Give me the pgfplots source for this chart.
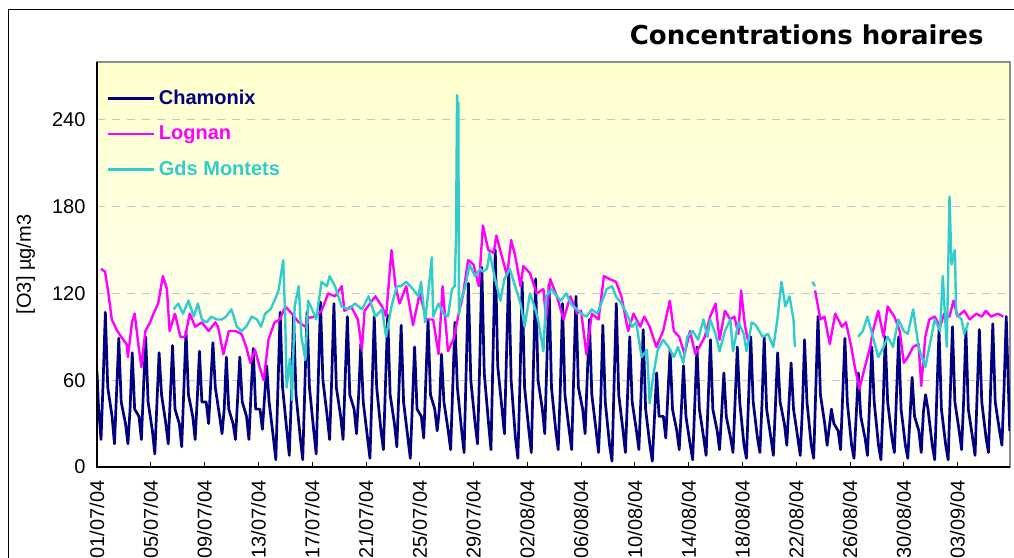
\documentclass[border=0pt]{standalone}
\usepackage{pgfplots}
\pgfplotsset{compat=1.18}
\usepackage{fontspec}
\setmainfont{Liberation Sans}
\newfontfamily\titlefont{DejaVu Sans}
\definecolor{cham}{HTML}{000080}
\definecolor{logn}{HTML}{FF00FF}
\definecolor{mont}{HTML}{33CCCC}
\definecolor{bgy}{HTML}{FFFFCC}
\definecolor{gridc}{HTML}{C4C4CC}
\definecolor{framec}{HTML}{8C8C8C}
\begin{document}
\begin{tikzpicture}
\begin{axis}[
  at={(97pt,90pt)}, anchor=south west,
  scale only axis, width=913pt, height=405pt,
  xmin=0, xmax=67.9, ymin=0, ymax=280,
  unbounded coords=jump,
  axis background/.style={top color=bgy, bottom color=white},
  axis line style={framec, line width=1.5pt},
  after end axis/.code={\draw[black, line width=1.3pt] (rel axis cs:0,1) -- (rel axis cs:0,0) -- (rel axis cs:1,0);},
  ytick={0,60,120,180,240},
  xtick={0,4,...,64},
  xticklabels={01/07/04,05/07/04,09/07/04,13/07/04,17/07/04,21/07/04,25/07/04,29/07/04,02/08/04,06/08/04,10/08/04,14/08/04,18/08/04,22/08/04,26/08/04,30/08/04,03/09/04},
  tick pos=left, tick align=inside, major tick length=5pt,
  xtick style={black, line width=0.8pt},
  ytick style={draw=none},
  /pgf/number format/assume math mode=true,
  tick label style={font=\fontsize{20}{24}\selectfont},
  xticklabel style={yshift=-10pt, rotate=90, anchor=east},
  yticklabel style={xshift=-8pt},
  ymajorgrids,
  grid style={gridc, line width=0.8pt, dash pattern=on 8pt off 7pt},
  ylabel={[O3] µg/m3},
  every axis y label/.style={at={(axis description cs:-0.078,0.5)}, rotate=90, anchor=center, font=\fontsize{20}{24}\selectfont},
  legend style={at={(axis description cs:0.00986,0.936)}, anchor=north west, draw=none, fill=none, inner sep=0pt, row sep=14.5pt, font=\fontsize{20}{24}\selectfont\bfseries, nodes={text height=15pt, text depth=4pt, inner sep=1pt}, /tikz/every odd column/.append style={column sep=3pt}},
  legend cell align=left,
  legend image code/.code={\draw[#1] (0pt,0pt) -- (46pt,0pt);},
  no markers,
]
\addplot[cham, line width=2.7pt, line join=round] coordinates {
(0,66)(0.12,40)(0.3,19)(0.46,60)(0.62,107)(0.8,55)
(1.12,35)(1.3,16)(1.62,89)(1.8,45)
(2.12,30)(2.3,16)(2.46,40)(2.62,79)(2.8,40)
(3.12,35)(3.3,19)(3.62,90)(3.8,45)
(4.12,25)(4.3,9)(4.46,45)(4.62,79)(4.8,50)
(5.12,30)(5.3,16)(5.62,84)(5.8,40)
(6.12,30)(6.3,14)(6.62,94)(6.8,50)
(7.12,35)(7.3,19)(7.46,48)(7.62,80)(7.8,45)
(8.12,45)(8.3,30)(8.62,86)(8.8,55)
(9.12,35)(9.3,23)(9.46,40)(9.62,76)(9.8,40)
(10.12,30)(10.3,19)(10.62,76)(10.8,45)
(11.12,35)(11.3,19)(11.46,52)(11.62,82)(11.8,40)
(12.12,40)(12.3,26)(12.62,70)(12.8,45)
(13.12,20)(13.3,5)(13.62,107)(13.8,55)
(14.12,25)(14.3,8)(14.46,50)(14.62,105)(14.8,50)
(15.12,20)(15.3,5)(15.62,107)(15.8,55)
(16.12,25)(16.3,9)(16.62,114)(16.8,60)
(17.12,35)(17.3,19)(17.46,62)(17.62,113)(17.8,55)
(18.12,35)(18.3,19)(18.62,104)(18.8,50)
(19.12,40)(19.3,23)(19.46,50)(19.62,85)(19.8,45)
(20.12,20)(20.3,6)(20.62,104)(20.8,55)
(21.12,25)(21.3,12)(21.62,105)(21.8,50)
(22.12,30)(22.3,14)(22.46,55)(22.62,98)(22.8,45)
(23.12,20)(23.3,6)(23.62,83)(23.8,40)
(24.12,35)(24.3,20)(24.62,102)(24.8,50)
(25.12,40)(25.3,25)(25.46,40)(25.62,78)(25.8,45)
(26.12,25)(26.3,12)(26.62,100)(26.8,55)
(27.12,25)(27.3,10)(27.62,127)(27.8,60)
(28.12,30)(28.3,16)(28.46,70)(28.62,138)(28.8,65)
(29.12,30)(29.3,12)(29.62,150)(29.8,70)
(30.12,40)(30.3,23)(30.62,136)(30.8,60)
(31.12,20)(31.3,6)(31.46,60)(31.62,128)(31.8,55)
(32.12,25)(32.3,10)(32.62,130)(32.8,60)
(33.12,40)(33.3,23)(33.62,126)(33.8,55)
(34.12,25)(34.3,12)(34.46,55)(34.62,113)(34.8,50)
(35.12,25)(35.3,12)(35.62,118)(35.8,55)
(36.12,40)(36.3,23)(36.62,102)(36.8,50)
(37.12,25)(37.3,10)(37.46,45)(37.62,98)(37.8,45)
(38.12,15)(38.3,4)(38.62,113)(38.8,50)
(39.12,25)(39.3,10)(39.62,90)(39.8,45)
(40.12,25)(40.3,12)(40.46,50)(40.62,95)(40.8,40)
(41.12,15)(41.3,4)(41.62,65)(41.8,35)
(42.12,35)(42.3,20)(42.62,81)(42.8,40)
(43.12,25)(43.3,12)(43.46,40)(43.62,70)(43.8,35)
(44.12,15)(44.3,5)(44.62,83)(44.8,40)
(45.12,20)(45.3,8)(45.62,88)(45.8,40)
(46.12,25)(46.3,12)(46.46,38)(46.62,65)(46.8,35)
(47.12,20)(47.3,10)(47.62,83)(47.8,45)
(48.12,15)(48.3,6)(48.62,90)(48.8,45)
(49.12,20)(49.3,10)(49.46,45)(49.62,90)(49.8,40)
(50.12,20)(50.3,8)(50.62,79)(50.8,45)
(51.12,30)(51.3,15)(51.62,72)(51.8,40)
(52.12,20)(52.3,8)(52.46,40)(52.62,88)(52.8,45)
(53.12,15)(53.3,6)(53.62,104)(53.8,50)
(54.12,30)(54.3,15)(54.62,40)(54.8,30)
(55.12,25)(55.3,12)(55.46,50)(55.62,89)(55.8,45)
(56.12,15)(56.3,6)(56.62,65)(56.8,35)
(57.12,20)(57.3,8)(57.62,83)(57.8,45)
(58.12,15)(58.3,5)(58.46,42)(58.62,90)(58.8,45)
(59.12,20)(59.3,10)(59.62,90)(59.8,40)
(60.12,15)(60.3,6)(60.62,62)(60.8,35)
(61.12,25)(61.3,10)(61.46,38)(61.62,50)(61.8,40)
(62.12,15)(62.3,5)(62.62,95)(62.8,40)
(63.12,15)(63.3,5)(63.62,97)(63.8,45)
(64.12,25)(64.3,12)(64.46,48)(64.62,95)(64.8,40)
(65.12,20)(65.3,8)(65.62,95)(65.8,45)
(66.12,20)(66.3,10)(66.62,99)(66.8,45)
(67.12,25)(67.3,15)(67.46,55)(67.62,104)(67.88,25)
};
\addlegendentry{\textcolor{cham}{Chamonix}}
\addplot[logn, line width=2.4pt, line join=round] coordinates {
(0.3,137)(0.6,135)(0.85,120)(1.1,102)(1.45,95)(1.8,90)(2.2,85)(2.3,76)(2.6,100)(2.8,106)
(3.1,83)(3.3,69)(3.6,94)(3.95,100)(4.2,106)(4.55,113)(4.9,132)(5.2,123)(5.4,94)(5.8,106)
(6.2,90)(6.55,90)(6.9,106)(7.3,97)(7.8,100)(8.3,94)(8.8,100)(9.0,97)(9.4,78)(9.8,94)
(10.3,94)(10.75,92)(11.1,83)(11.4,72)(11.75,81)(12.1,69)(12.4,60)(12.75,88)(13.2,100)(13.6,102)
(14.0,111)(14.5,106)(15.0,100)(15.5,97)(15.7,103)(16.2,104)(16.7,108)(17.2,120)(17.7,118)(18.2,125)
(18.4,108)(18.9,111)(19.4,102)(19.7,81)(19.9,108)(20.3,113)(20.7,118)(21.2,111)(21.5,104)(21.9,150)
(22.2,125)(22.5,113)(23.0,125)(23.5,98)(24.0,120)(24.5,102)(25.0,102)(25.4,78)(25.7,125)(26.1,80)
(26.5,88)(26.9,106)(27.2,118)(27.6,143)(28.0,140)(28.4,125)(28.7,167)(29.1,150)(29.5,148)(29.7,160)
(30.1,146)(30.5,132)(30.8,157)(31.1,146)(31.5,125)(31.7,139)(32.2,134)(32.7,120)(33.2,123)(33.4,102)
(33.7,130)(34.2,118)(34.7,102)(35.2,118)(35.7,106)(36.0,108)(36.4,78)(36.8,106)(37.3,102)(37.7,132)
(38.1,130)(38.6,128)(39.0,118)(39.5,94)(39.9,106)(40.4,97)(40.7,104)(41.1,97)(41.6,83)(42.1,94)
(42.6,115)(42.9,94)(43.3,90)(43.7,78)(44.1,94)(44.5,78)(44.8,83)(45.2,90)(45.6,104)(46.0,113)
(46.3,88)(46.7,108)(47.1,102)(47.4,104)(47.7,92)(47.9,122)(48.2,97)(48.4,88)(48.45,nan)
(53.4,122)(53.8,102)(54.1,104)(54.5,85)(54.9,106)(55.4,97)(55.7,100)(56.1,83)(56.3,72)(56.7,54)
(57.1,69)(57.5,83)(57.7,94)(58.1,108)(58.5,90)(58.8,111)(59.3,104)(59.7,94)(60.0,72)(60.3,76)
(60.7,83)(61.1,85)(61.3,56)(61.6,90)(61.9,102)(62.3,104)(62.7,97)(63.0,106)(63.4,104)(63.7,115)
(64.0,104)(64.5,108)(64.9,102)(65.4,106)(65.8,104)(66.1,108)(66.5,104)(67.0,106)(67.4,104)
};
\addlegendentry{\textcolor{logn}{Lognan}}
\addplot[mont, line width=2.4pt, line join=round] coordinates {
(5.7,109)(6.05,113)(6.4,106)(6.8,115)(7.2,104)(7.5,113)(7.8,102)(8.15,100)(8.5,104)(8.9,102)
(9.3,102)(9.6,104)(10.0,109)(10.4,97)(10.75,94)(11.1,97)(11.5,104)(11.9,102)(12.2,97)(12.5,106)
(12.9,109)(13.2,115)(13.5,122)(13.85,143)(14.0,102)(14.1,55)(14.35,75)(14.5,46)(14.7,111)(15.0,125)
(15.2,90)(15.5,74)(15.7,115)(16.0,109)(16.3,102)(16.7,128)(17.1,125)(17.3,132)(17.7,125)(18.2,111)
(18.7,109)(19.2,113)(19.7,109)(20.2,118)(20.7,104)(21.2,109)(21.5,90)(21.9,111)(22.3,125)(22.6,125)
(23.0,128)(23.5,123)(23.9,118)(24.1,128)(24.4,100)(24.9,145)(25.0,104)(25.4,113)(25.75,106)(26.1,104)
(26.4,123)(26.6,125)(26.7,159)(26.78,257)(26.82,191)(26.87,252)(26.92,105)(27.0,113)(27.4,125)(27.7,140)
(28.1,132)(28.5,137)(28.7,135)(29.0,137)(29.2,148)(29.6,130)(30.0,115)(30.3,130)(30.7,137)(31.1,125)
(31.5,113)(31.8,97)(32.2,120)(32.6,109)(32.8,102)(33.2,80)(33.4,118)(33.8,123)(34.2,118)(34.5,115)
(34.9,120)(35.3,112)(35.7,109)(36.0,106)(36.4,104)(36.8,109)(37.2,106)(37.5,113)(37.9,123)(38.3,125)
(38.6,118)(39.0,113)(39.4,106)(39.8,97)(40.1,100)(40.5,76)(40.9,81)(41.1,44)(41.4,65)(41.7,81)
(42.1,88)(42.5,83)(42.9,76)(43.2,83)(43.6,72)(43.9,90)(44.3,94)(44.7,88)(45.1,102)(45.4,90)
(45.6,102)(46.0,92)(46.3,80)(46.7,94)(47.1,102)(47.3,80)(47.7,100)(48.1,92)(48.3,80)(48.7,100)
(49.0,98)(49.5,90)(49.9,92)(50.3,83)(50.6,102)(50.9,128)(51.2,111)(51.5,118)(51.8,102)(51.9,83)
(52.0,nan)(53.2,128)(53.4,125)(53.5,nan)
(56.6,90)(56.95,94)(57.3,104)(57.7,90)(58.1,76)(58.5,83)(58.8,90)(59.2,83)(59.6,102)(60.0,94)
(60.3,92)(60.7,109)(61.1,83)(61.6,69)(61.9,83)(62.3,102)(62.7,94)(62.9,132)(63.2,83)(63.4,187)
(63.55,140)(63.8,150)(63.9,106)(64.3,102)(64.5,92)(64.8,100)
};
\addlegendentry{\textcolor{mont}{Gds Montets}}
\end{axis}
\node[anchor=base east, font={\titlefont\bfseries\fontsize{26}{30}\selectfont}] at (987pt,512pt) {Concentrations horaires};
\draw[line width=1pt] (8pt,-20pt) -- (8pt,547pt) -- (1040pt,547pt);
\pgfresetboundingbox
\path[use as bounding box] (0pt,0pt) rectangle (1014pt,557pt);
\end{tikzpicture}
\end{document}
